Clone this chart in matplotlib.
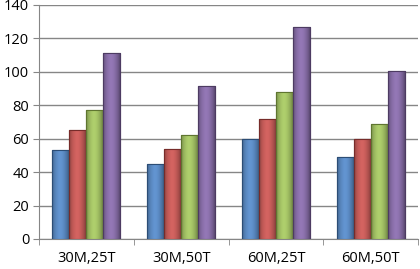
import matplotlib
matplotlib.use("Agg")
import matplotlib.pyplot as plt
import matplotlib.colors as mcolors
import numpy as np

categories = ["30M,25T", "30M,50T", "60M,25T", "60M,50T"]
series1 = [53, 45, 60, 49]
series2 = [65, 54, 72, 60]
series3 = [77, 62.5, 88, 69]
series4 = [111, 91.5, 127, 100.5]
yticks = [0, 20, 40, 60, 80, 100, 120, 140]

colors = ["#4F81BD", "#C0504D", "#9BBB59", "#8064A2"]
edges = ["#2C4D75", "#772C2A", "#5F7530", "#4D3B62"]

fig = plt.figure(figsize=(4.2, 2.69), dpi=100)
ax = fig.add_axes([39/420, 1-239/269, 379/420, 234/269])
x = np.arange(len(categories))
w = 0.18
allser = [series1, series2, series3, series4]
prof = np.linspace(0, 1, 32)
shade = 1 - 0.35 * (2 * np.abs(prof - 0.45)) ** 2
for i, s in enumerate(allser):
    bars = ax.bar(x + (i - 1.5) * w, s, width=w, color=colors[i], edgecolor=edges[i], linewidth=0.8, zorder=3)
    base = np.array(mcolors.to_rgb(colors[i]))
    img = np.clip(base[None, None, :] * shade[None, :, None] + 0.08 * (1 - np.abs(prof - 0.45))[None, :, None], 0, 1)
    for b in bars:
        bx, by = b.get_x(), b.get_y()
        bw, bh = b.get_width(), b.get_height()
        im = ax.imshow(img, extent=[bx, bx + bw, by, by + bh], aspect="auto", zorder=3.5, interpolation="bilinear")
        im.set_clip_path(b)
        ax.bar(b.get_x() + bw / 2, bh, width=bw, fill=False, edgecolor=edges[i], linewidth=0.8, zorder=4)

ax.set_xlim(-0.5, 3.5)
ax.set_ylim(0, 140)
ax.set_yticks(yticks)
ax.set_xticks(x)
ax.set_xticklabels(categories)
ax.set_xticks(np.arange(-0.5, 4.0, 1.0), minor=True)
ax.grid(axis="y", color="#868686", linewidth=1.0, zorder=0)
for sp in ["top", "right"]:
    ax.spines[sp].set_visible(False)
for sp in ["left", "bottom"]:
    ax.spines[sp].set_color("#868686")
ax.tick_params(axis="x", which="major", length=0, pad=9, labelsize=10.5)
ax.tick_params(axis="x", which="minor", length=4, color="#868686")
ax.tick_params(axis="y", length=4, color="#868686", labelsize=10.5, pad=3)
for t in ax.get_xticklabels() + ax.get_yticklabels():
    t.set_fontfamily("Open Sans")
fig.savefig("out.png", dpi=100)
